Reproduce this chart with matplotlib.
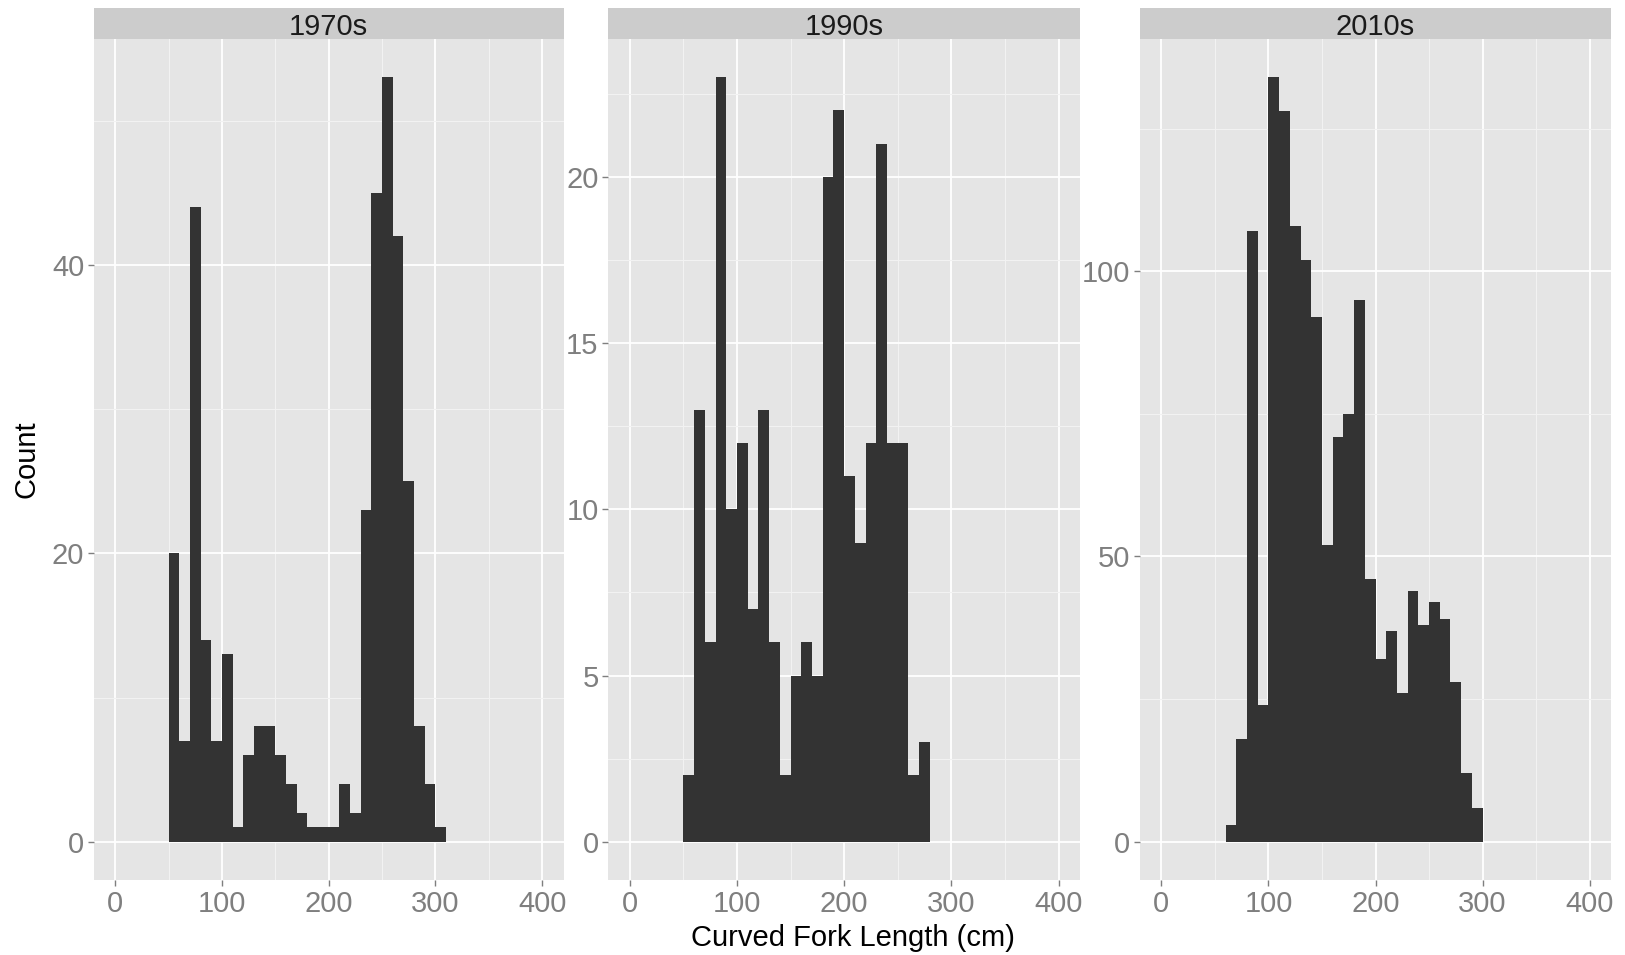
import numpy as np
import matplotlib
matplotlib.use('Agg')
import matplotlib.pyplot as plt

plt.rcParams['font.family'] = ['Liberation Sans', 'DejaVu Sans']

# histogram counts, bins 10 cm wide
decades = ['1970s', '1990s', '2010s']
start_1970s = 50
counts_1970s = [20, 7, 44, 14, 7, 13, 1, 6, 8, 8, 6, 4, 2, 1, 1, 1, 4, 2,
                23, 45, 53, 42, 25, 8, 4, 1]
start_1990s = 50
counts_1990s = [2, 13, 6, 23, 10, 12, 7, 13, 6, 2, 5, 6, 5, 20, 22, 11, 9,
                12, 21, 12, 12, 2, 3]
start_2010s = 60
counts_2010s = [3, 18, 107, 24, 134, 128, 108, 102, 92, 52, 71, 75, 95, 46,
                32, 37, 26, 44, 38, 42, 39, 28, 12, 6]
bin_width = 10

y_ticks = [[0, 20, 40], [0, 5, 10, 15, 20], [0, 50, 100]]
y_minor = [[10, 30, 50], [2.5, 7.5, 12.5, 17.5, 22.5], [25, 75, 125]]
x_ticks = [0, 100, 200, 300, 400]
x_minor = [50, 150, 250, 350]

starts = [start_1970s, start_1990s, start_2010s]
counts = [counts_1970s, counts_1990s, counts_2010s]

W, H = 1625, 955
fig = plt.figure(figsize=(W / 100, H / 100), dpi=100)

panel_left = [94, 608.3, 1140]
panel_w = [469.5, 471.7, 471]
top_px, bottom_px, strip_top = 39, 880, 8.3

tick_col = '#7F7F7F'
fs = 21

for i, dec in enumerate(decades):
    l = panel_left[i] / W
    w = panel_w[i] / W
    b = 1 - bottom_px / H
    h = (bottom_px - top_px) / H
    ax = fig.add_axes([l, b, w, h])
    ax.set_facecolor('#E5E5E5')
    c = np.array(counts[i])
    left_edges = starts[i] + bin_width * np.arange(len(c))
    ax.bar(left_edges, c, width=bin_width, align='edge', color='#333333',
           linewidth=0, zorder=3)
    ax.set_xlim(-20, 420)
    ymax = c.max()
    ax.set_ylim(-0.05 * ymax, 1.05 * ymax)
    ax.set_xticks(x_ticks)
    ax.set_xticks(x_minor, minor=True)
    ax.set_yticks(y_ticks[i])
    ax.set_yticks(y_minor[i], minor=True)
    ax.grid(True, which='major', color='white', linewidth=1.3, zorder=1)
    ax.grid(True, which='minor', color='#F2F2F2', linewidth=0.8, zorder=1)
    ax.set_axisbelow(True)
    for s in ax.spines.values():
        s.set_visible(False)
    ax.tick_params(which='major', length=4, width=1, color=tick_col,
                   labelcolor=tick_col, labelsize=fs, pad=3)
    ax.tick_params(which='minor', length=0)

    # facet strip
    sax = fig.add_axes([l, 1 - top_px / H, w, (top_px - strip_top) / H])
    sax.set_facecolor('#CCCCCC')
    sax.set_xticks([])
    sax.set_yticks([])
    for s in sax.spines.values():
        s.set_visible(False)
    sax.text(0.5, 0.38, dec, ha='center', va='center', fontsize=fs,
             color='#1A1A1A', transform=sax.transAxes)

fig.text(852.5 / W, 1 - 938 / H, 'Curved Fork Length (cm)', ha='center',
         va='center', fontsize=fs, color='black')
fig.text(26 / W, 1 - 459.5 / H, 'Count', ha='center', va='center',
         rotation=90, fontsize=fs, color='black')

fig.savefig('out.png', dpi=100, facecolor='white')
